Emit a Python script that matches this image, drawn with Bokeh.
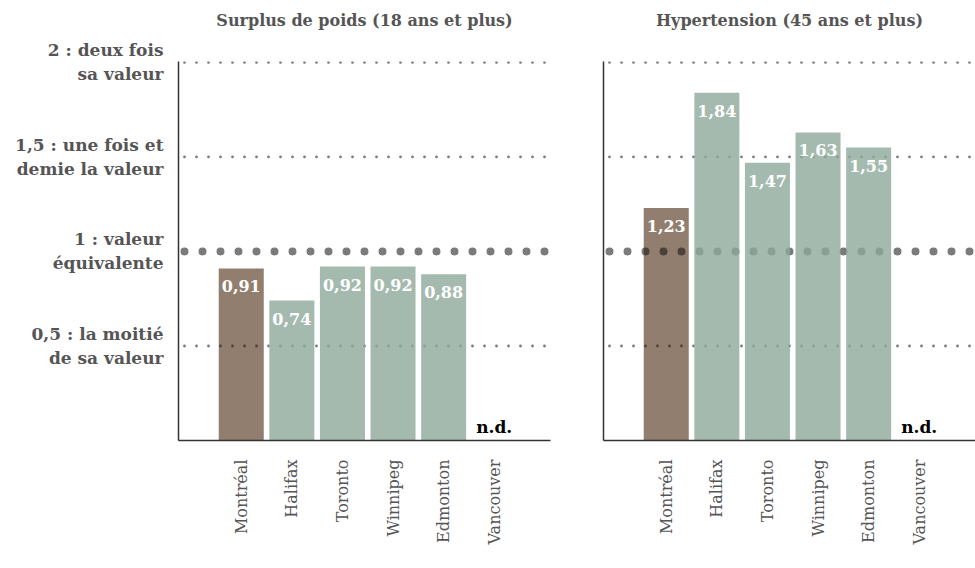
import math
from bokeh.plotting import figure
from bokeh.layouts import row
from bokeh.models import Range1d, FixedTicker, ColumnDataSource, LinearAxis
from bokeh.core.properties import value
from bokeh.embed import file_html
from bokeh.resources import INLINE

# ---- data ----
cities = ["Montréal", "Halifax", "Toronto", "Winnipeg", "Edmonton", "Vancouver"]
highlight_city = "Montréal"
titles = ["Surplus de poids (18 ans et plus)", "Hypertension (45 ans et plus)"]
surplus_values = [0.91, 0.74, 0.92, 0.92, 0.88, None]
hyper_values = [1.23, 1.84, 1.47, 1.63, 1.55, None]
grid_values = [0.5, 1.0, 1.5, 2.0]
reference_value = 1.0
y_tick_labels = {
    0.5: "0,5 : la moitié\nde sa valeur",
    1.0: "1 : valeur\néquivalente",
    1.5: "1,5 : une fois et\ndemie la valeur",
    2.0: "2 : deux fois\nsa valeur",
}
missing_label = "n.d."

SERIF = "DejaVu Serif"
BROWN = "#917e6e"
GREEN = "#8fa99a"   # drawn at alpha 0.8 -> looks #a5baae on white
DOT = "#141414"
PX_PER_CAT = 50.6


def make_panel(title, vals, width, border_left, border_right, show_labels):
    frame_w = width - border_left - border_right
    x0 = -1.24
    x1 = x0 + frame_w / PX_PER_CAT
    p = figure(width=width, height=555, output_backend="svg", toolbar_location=None,
               x_range=Range1d(x0, x1), y_range=Range1d(0, 2.005),
               min_border_left=border_left, min_border_right=border_right,
               min_border_top=61, min_border_bottom=115)
    p.outline_line_color = None
    p.grid.visible = False
    p.background_fill_color = "white"
    p.border_fill_color = "white"

    idx = list(range(len(cities)))
    hi = [i for i in idx if cities[i] == highlight_city and vals[i] is not None]
    ot = [i for i in idx if cities[i] != highlight_city and vals[i] is not None]
    miss = [i for i in idx if vals[i] is None]

    # bottom and left axes (styled before the title axis is added)
    bottom = p.below[0]
    yax = p.left[0]
    for ax in (bottom, yax):
        ax.axis_line_color = "#333333"
        ax.axis_line_width = 1.5
        ax.major_tick_line_color = None
        ax.minor_tick_line_color = None

    bottom.ticker = FixedTicker(ticks=idx)
    bottom.major_label_overrides = {i: c for i, c in enumerate(cities)}
    bottom.major_label_orientation = math.pi / 2
    bottom.major_label_text_font = SERIF
    bottom.major_label_text_font_size = "16px"
    bottom.major_label_text_color = "#555555"
    bottom.major_label_standoff = 13

    if show_labels:
        yax.ticker = FixedTicker(ticks=grid_values)
        yax.major_label_overrides = y_tick_labels
        yax.major_label_text_font = SERIF
        yax.major_label_text_font_size = "17px"
        yax.major_label_text_font_style = "bold"
        yax.major_label_text_color = "#555555"
        yax.major_label_standoff = 9
        yax.major_label_text_align = "right"
    else:
        yax.ticker = FixedTicker(ticks=[])
        yax.major_label_standoff = 0

    # panel title: label of an invisible axis above the frame
    top_axis = LinearAxis(ticker=FixedTicker(ticks=[]), axis_label=title,
                          axis_line_color=None, major_tick_line_color=None,
                          minor_tick_line_color=None, major_label_standoff=0,
                          axis_label_standoff=32, axis_label_text_font=SERIF,
                          axis_label_text_font_size="16px",
                          axis_label_text_font_style="bold",
                          axis_label_text_color="#555555")
    p.add_layout(top_axis, "above")

    # highlighted bar (under dots)
    p.vbar(x=hi, top=[vals[i] for i in hi], width=0.89, fill_color=BROWN, line_color=None)

    # grid dots
    gx0 = x0 + 6 / PX_PER_CAT
    small = [g for g in grid_values if g != reference_value]
    p.segment(x0=[gx0] * len(small), x1=[x1] * len(small), y0=small, y1=small,
              line_color=DOT, line_alpha=0.56, line_width=2.8, line_cap="round",
              line_dash="0 12")
    p.segment(x0=[gx0], x1=[x1], y0=[reference_value], y1=[reference_value],
              line_color=DOT, line_alpha=0.56, line_width=8, line_cap="round",
              line_dash="0 18")

    # other bars (over dots, slightly transparent)
    p.vbar(x=ot, top=[vals[i] for i in ot], width=0.89, fill_color=GREEN,
           fill_alpha=0.8, line_color=None)

    # value labels
    lab_i = hi + ot
    src = ColumnDataSource(dict(x=lab_i, y=[vals[i] for i in lab_i],
                                t=[f"{vals[i]:.2f}".replace(".", ",") for i in lab_i]))
    p.text(x="x", y="y", text="t", source=src, text_color="white",
           text_font=value(SERIF), text_font_style="bold", text_font_size="16px",
           text_align="center", text_baseline="top", y_offset=12)
    p.text(x=miss, y=[0] * len(miss), text=[missing_label] * len(miss),
           text_color="black", text_font=value(SERIF), text_font_style="bold",
           text_font_size="17px", text_align="center", text_baseline="bottom",
           y_offset=-4)
    return p


left = make_panel(titles[0], surplus_values, 590, 178, 40, True)
right = make_panel(titles[1], hyper_values, 385, 13, 0, False)

layout = row(left, right)
open("out.html", "w").write(file_html(layout, INLINE))
